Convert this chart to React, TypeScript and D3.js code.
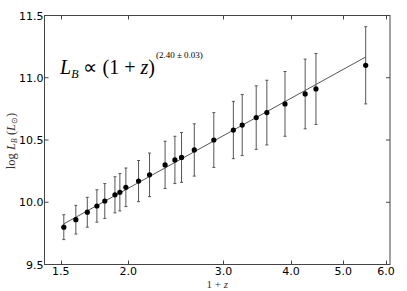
import React, { useEffect, useRef } from 'react';
import * as d3 from 'd3';

// 1+z of each bin
const onePlusZ = [1.52, 1.60, 1.68, 1.75, 1.81, 1.89, 1.93, 1.98, 2.09, 2.19, 2.34, 2.44, 2.51, 2.65, 2.88, 3.13, 3.25, 3.45, 3.61, 3.90, 4.25, 4.45, 5.50];
// log L_B (L_sun)
const logLB = [9.80, 9.86, 9.92, 9.97, 10.01, 10.06, 10.08, 10.12, 10.17, 10.22, 10.30, 10.34, 10.36, 10.42, 10.50, 10.58, 10.62, 10.68, 10.72, 10.79, 10.87, 10.91, 11.10];
// half-length of the error bars
const errLB = [0.10, 0.115, 0.12, 0.13, 0.14, 0.145, 0.15, 0.155, 0.165, 0.175, 0.19, 0.19, 0.20, 0.21, 0.22, 0.23, 0.245, 0.255, 0.26, 0.26, 0.28, 0.285, 0.31];

const xTicks = [1.5, 2.0, 3.0, 4.0, 5.0, 6.0];
const yTicks = [9.5, 10.0, 10.5, 11.0, 11.5];

// power-law fit: log L_B = intercept + slope * log(1+z)
const fitSlope = 2.40;
const fitIntercept = 9.39;

export default function App() {
    const ref = useRef<SVGSVGElement>(null);

    useEffect(() => {
        const width = 407, height = 291;
        const margin = { top: 15.5, left: 44.5, right: 17, bottom: 26.5 };
        const axisColor = '#444';

        const svg = d3.select(ref.current);
        svg.selectAll('*').remove();

        const x = d3.scaleLog().domain([1.4, 6.1]).range([margin.left, width - margin.right]);
        const y = d3.scaleLinear().domain([9.5, 11.5]).range([height - margin.bottom, margin.top]);

        const [x0, x1] = x.range();
        const [y0, y1] = y.range();

        // error bars
        const g = svg.append('g');
        const bars = g.selectAll('g.err')
            .data(onePlusZ.map((z, i) => ({ z, v: logLB[i], e: errLB[i] })))
            .enter().append('g');
        bars.append('line')
            .attr('x1', d => x(d.z)).attr('x2', d => x(d.z))
            .attr('y1', d => y(d.v + d.e)).attr('y2', d => y(d.v - d.e))
            .attr('stroke', '#555').attr('stroke-width', 1);
        [1, -1].forEach(s => {
            bars.append('line')
                .attr('x1', d => x(d.z) - 1.5).attr('x2', d => x(d.z) + 1.5)
                .attr('y1', d => y(d.v + s * d.e)).attr('y2', d => y(d.v + s * d.e))
                .attr('stroke', '#555').attr('stroke-width', 1);
        });

        // fit line
        const zFit = [onePlusZ[0], onePlusZ[onePlusZ.length - 1]];
        const line = d3.line<number>()
            .x(d => x(d))
            .y(d => y(fitIntercept + fitSlope * Math.log10(d)));
        g.append('path')
            .attr('d', line(zFit))
            .attr('fill', 'none')
            .attr('stroke', '#555')
            .attr('stroke-width', 1);

        // points
        g.selectAll('circle')
            .data(onePlusZ)
            .enter().append('circle')
            .attr('cx', d => x(d))
            .attr('cy', (d, i) => y(logLB[i]))
            .attr('r', 2.6)
            .attr('fill', '#000');

        // frame
        svg.append('rect')
            .attr('x', x0).attr('y', y1)
            .attr('width', x1 - x0).attr('height', y0 - y1)
            .attr('fill', 'none').attr('stroke', axisColor).attr('stroke-width', 1);

        // ticks, inward on every side
        const tl = 4;
        xTicks.forEach(t => {
            const px = Math.round(x(t)) + 0.5;
            svg.append('line').attr('x1', px).attr('x2', px).attr('y1', y0).attr('y2', y0 - tl).attr('stroke', axisColor);
            svg.append('line').attr('x1', px).attr('x2', px).attr('y1', y1).attr('y2', y1 + tl).attr('stroke', axisColor);
            svg.append('text')
                .attr('x', x(t)).attr('y', y0 + 10.5)
                .attr('text-anchor', 'middle')
                .attr('font-family', 'DejaVu Sans')
                .attr('font-size', 11)
                .attr('fill', '#000')
                .text(t.toFixed(1));
        });
        yTicks.forEach(t => {
            const py = y(t);
            svg.append('line').attr('x1', x0).attr('x2', x0 + tl).attr('y1', py).attr('y2', py).attr('stroke', axisColor);
            svg.append('line').attr('x1', x1).attr('x2', x1 - tl).attr('y1', py).attr('y2', py).attr('stroke', axisColor);
            svg.append('text')
                .attr('x', x0 - 1).attr('y', py + 4)
                .attr('text-anchor', 'end')
                .attr('font-family', 'DejaVu Sans')
                .attr('font-size', 11)
                .attr('fill', '#000')
                .text(t.toFixed(1));
        });

        // axis labels
        const xl = svg.append('text')
            .attr('x', (x0 + x1) / 2).attr('y', height - 3.5)
            .attr('text-anchor', 'middle')
            .attr('font-family', 'Liberation Serif')
            .attr('font-size', 11)
            .attr('fill', '#333');
        xl.append('tspan').text('1 + ');
        xl.append('tspan').attr('font-style', 'italic').text('z');

        const yl = svg.append('text')
            .attr('transform', `translate(15,${(y0 + y1) / 2 + 1}) rotate(-90)`)
            .attr('text-anchor', 'middle')
            .attr('font-family', 'Liberation Serif')
            .attr('font-size', 12.5)
            .attr('fill', '#333');
        yl.append('tspan').text('log ');
        yl.append('tspan').attr('font-style', 'italic').text('L');
        yl.append('tspan').attr('font-style', 'italic').attr('font-size', 8).attr('dy', 2).text('B');
        yl.append('tspan').attr('dy', -2).text(' (');
        yl.append('tspan').attr('font-style', 'italic').text('L');
        yl.append('tspan').attr('font-size', 8).attr('dy', 2).text('⊙');
        yl.append('tspan').attr('dy', -2).text(')');

        // annotation
        const ann = svg.append('text')
            .attr('x', 60).attr('y', 74)
            .attr('font-family', 'Liberation Serif')
            .attr('font-size', 20)
            .attr('fill', '#000');
        ann.append('tspan').attr('font-style', 'italic').text('L');
        ann.append('tspan').attr('font-style', 'italic').attr('font-size', 12).attr('dy', 4).text('B');
        ann.append('tspan').attr('dy', -4).text(' ∝ (1 + ');
        ann.append('tspan').attr('font-style', 'italic').text('z');
        ann.append('tspan').text(')');
        ann.append('tspan').attr('font-size', 9).attr('dx', 1).attr('dy', -16).text('(2.40 ± 0.03)');
    }, []);

    return (
        <svg ref={ref} width={407} height={291}
             style={{ position: 'absolute', left: 0, top: 0, background: '#fff' }} />
    );
}
